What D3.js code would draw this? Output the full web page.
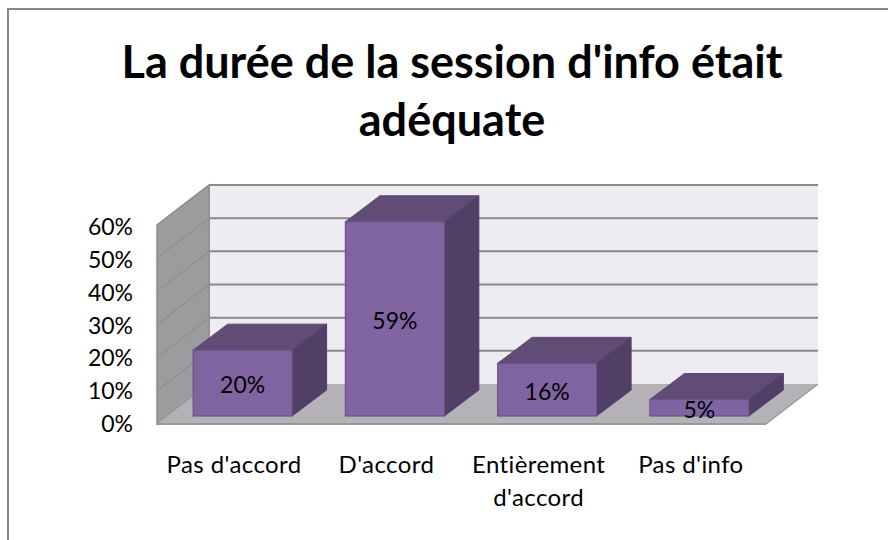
<!DOCTYPE html>
<html><head><meta charset="utf-8">
<script src="https://cdn.jsdelivr.net/npm/d3@7/dist/d3.min.js"></script>
<style>html,body{margin:0;padding:0;background:#fff}svg{display:block}text{font-family:Lato,"Open Sans",sans-serif;fill:#000}</style>
</head><body><svg id="c" width="888" height="540"></svg>
<script>
const titleLines = ["La durée de la session d'info était", "adéquate"];
const categories = ["Pas d'accord", "D'accord", "Entièrement d'accord", "Pas d'info"];
const catLines = [["Pas d'accord"], ["D'accord"], ["Entièrement", "d'accord"], ["Pas d'info"]];
const values = [20, 59, 16, 5];
const yTicks = [0, 10, 20, 30, 40, 50, 60];

const svg = d3.select("#c");
const y = d3.scaleLinear().domain([0, 60]).range([424, 225]);
const yBar = d3.scaleLinear().domain([0, 60]).range([416, 218.5]);
const yLabel = d3.scaleLinear().domain([0, 60]).range([424, 227]);
const x = d3.scaleBand().domain(categories).range([157, 766]).paddingInner(0.35).paddingOuter(0.175);
const wallD = {dx: 52, dy: -40};
const barD = {dx: 34.5, dy: -26};
const barOff = {dx: 9.5};
const pts = a => a.map(p => p.join(",")).join(" ");

// frame
svg.append("path").attr("d", "M8,540V9H888").attr("fill", "none").attr("stroke", "#868686").attr("stroke-width", 2);

// title
svg.selectAll(".t").data(titleLines).join("text").attr("class", "t")
  .attr("x", 452).attr("y", (d, i) => 77.5 + i * 58).attr("text-anchor", "middle")
  .attr("font-size", 45).attr("font-weight", 700).text(d => d);

const top0 = y(60), base = y(0), xL = 157, xR = 766;
// back wall
svg.append("rect").attr("x", xL + wallD.dx).attr("y", top0 + wallD.dy)
  .attr("width", xR - xL).attr("height", base - top0).attr("fill", "#eeecf1");
// side wall
svg.append("polygon").attr("points", pts([[xL, base], [xL, top0], [xL + wallD.dx, top0 + wallD.dy], [xL + wallD.dx, base + wallD.dy]]))
  .attr("fill", "#9c9b9d").attr("stroke", "#8f8f8f").attr("stroke-width", 1.5);
// floor
svg.append("polygon").attr("points", pts([[xL, base], [xR, base], [xR + wallD.dx, base + wallD.dy], [xL + wallD.dx, base + wallD.dy]]))
  .attr("fill", "#b4b2b6");
svg.append("line").attr("x1", xL).attr("x2", xR).attr("y1", base).attr("y2", base).attr("stroke", "#979797").attr("stroke-width", 2);
svg.append("line").attr("x1", xR).attr("x2", xR + wallD.dx).attr("y1", base).attr("y2", base + wallD.dy).attr("stroke", "#979797").attr("stroke-width", 1.2);

// gridlines
const grid = svg.append("g");
yTicks.filter(t => t > 0).forEach(t => {
  grid.append("line").attr("stroke", "#8f8f8f").attr("stroke-width", 1.2)
    .attr("x1", xL).attr("y1", y(t)).attr("x2", xL + wallD.dx).attr("y2", y(t) + wallD.dy);
  grid.append("line").attr("stroke", "#8a8a8a").attr("stroke-width", 2)
    .attr("x1", xL + wallD.dx).attr("y1", y(t) + wallD.dy).attr("x2", xR + wallD.dx).attr("y2", y(t) + wallD.dy);
});
svg.append("line").attr("x1", xL + wallD.dx).attr("x2", xL + wallD.dx).attr("y1", top0 + wallD.dy).attr("y2", base + wallD.dy).attr("stroke", "#8f8f8f").attr("stroke-width", 1.5);

// bars
const barG = svg.selectAll(".bar").data(categories.map((c, i) => ({c, v: values[i]}))).join("g").attr("class", "bar");
const bx = d => x(d.c) + barOff.dx, bw = x.bandwidth();
const by = d => yBar(d.v), bb = yBar(0);
barG.append("polygon").attr("fill", "#614c78").attr("stroke", "#5c4870").attr("stroke-width", 1)
  .attr("points", d => pts([[bx(d), by(d)], [bx(d) + bw, by(d)], [bx(d) + bw + barD.dx, by(d) + barD.dy], [bx(d) + barD.dx, by(d) + barD.dy]]));
barG.append("polygon").attr("fill", "#523f67").attr("stroke", "#523f67").attr("stroke-width", 1)
  .attr("points", d => pts([[bx(d) + bw, by(d)], [bx(d) + bw + barD.dx, by(d) + barD.dy], [bx(d) + bw + barD.dx, bb + barD.dy], [bx(d) + bw, bb]]));
barG.append("rect").attr("x", bx).attr("y", by).attr("width", bw).attr("height", d => bb - by(d))
  .attr("fill", "#8064a2").attr("stroke", "#6b5389").attr("stroke-width", 1.2);
barG.append("text").attr("x", d => bx(d) + bw / 2)
  .attr("y", d => (by(d) + bb) / 2 + 10).attr("text-anchor", "middle").attr("font-size", 23)
  .text(d => d.v + "%");

// y labels
svg.selectAll(".yl").data(yTicks).join("text").attr("class", "yl")
  .attr("x", 133).attr("y", d => yLabel(d) + 8).attr("text-anchor", "end").attr("font-size", 23).text(d => d + "%");

// x labels
svg.selectAll(".xl").data(categories).join("text").attr("class", "xl")
  .attr("x", d => x(d) + bw / 2 + 1).attr("y", 473).attr("text-anchor", "middle").attr("font-size", 24)
  .attr("letter-spacing", 0.4)
  .each(function (d, i) {
    d3.select(this).selectAll("tspan").data(catLines[i]).join("tspan")
      .attr("x", x(d) + bw / 2 + 1).attr("dy", (l, k) => k ? 33 : 0).text(l => l);
  });
</script></body></html>
